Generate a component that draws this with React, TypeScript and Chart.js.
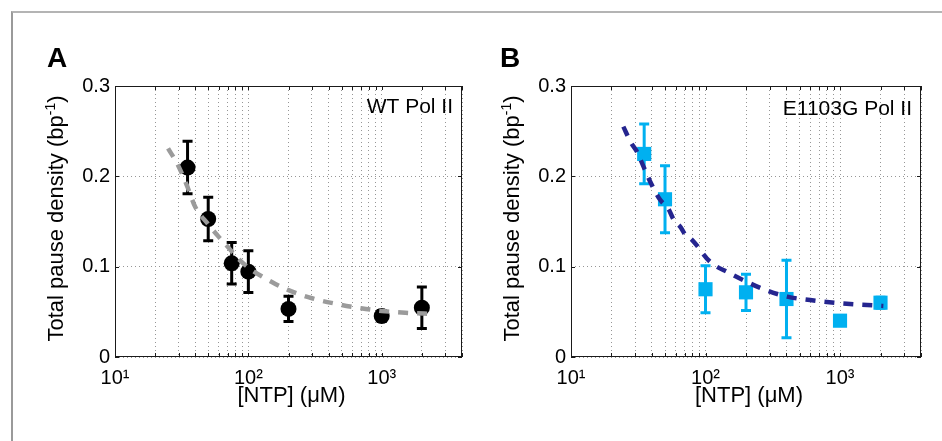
import React, { useEffect, useRef } from 'react';
import { Chart, registerables } from 'chart.js';
Chart.register(...registerables);

const FONT = "'Liberation Sans', Arial, Helvetica, sans-serif";

// Axis ticks / grid
const xGridValues = [10, 20, 30, 40, 50, 60, 70, 80, 90, 100, 200, 300, 400, 500, 600, 700, 800, 900, 1000, 2000, 3000, 4000];
const xMajorValues = [10, 100, 1000];
const xMajorLabels = ['10¹', '10²', '10³'];
const yTickValues = [0, 0.1, 0.2, 0.3];
const yTickLabels = ['0', '0.1', '0.2', '0.3'];
const xTitle = '[NTP] (μM)';
const yTitleMain = 'Total pause density (bp';
const yTitleSup = '-1';
const yTitleEnd = ')';

// Panel A — WT Pol II
const wtNtp = [35, 50, 75, 100, 200, 1000, 2000];
const wtDensity = [0.2097, 0.1528, 0.1037, 0.0945, 0.0532, 0.0454, 0.0546];
const wtError = [0.029, 0.024, 0.023, 0.023, 0.014, 0.006, 0.023];
const wtFitNtp = [25, 30, 35, 40, 50, 60, 70, 85, 100, 150, 200, 300, 450, 700, 1000, 1500, 2450];
const wtFitDensity = [0.231, 0.211, 0.188, 0.166, 0.147, 0.133, 0.122, 0.108, 0.099, 0.083, 0.074, 0.065, 0.059, 0.054, 0.051, 0.049, 0.0476];

// Panel B — E1103G Pol II
const mutNtp = [35, 50, 100, 200, 400, 1000, 2000];
const mutDensity = [0.2248, 0.1746, 0.075, 0.0716, 0.0642, 0.0402, 0.0601];
const mutError = [0.033, 0.037, 0.026, 0.02, 0.043, 0, 0.006];
const mutFitNtp = [24.5, 28, 31, 35, 40, 46, 53, 58, 65, 71, 79, 108, 150, 190, 270, 405, 600, 908, 1400, 2100];
const mutFitDensity = [0.255, 0.237, 0.227, 0.209, 0.19, 0.174, 0.164, 0.152, 0.144, 0.135, 0.13, 0.1055, 0.093, 0.0853, 0.075, 0.0668, 0.063, 0.0601, 0.058, 0.0565];

type PanelProps = {
  left: number;
  letter: string;
  letterX: number;
  annotation: string;
  annotationRight: number;
  annotationBaseline: number;
  ntp: number[];
  density: number[];
  error: number[];
  fitNtp: number[];
  fitDensity: number[];
  markerColor: string;
  markerStyle: string;
  markerRadius: number;
  fitColor: string;
  fitWidth: number;
  yAxisWidth: number;
  rightPad: number;
};

const W = 471;
const H = 441;

function Panel(p: PanelProps) {
  const ref = useRef<HTMLCanvasElement | null>(null);
  useEffect(() => {
    if (!ref.current) return;
    const deco = {
      id: 'deco',
      beforeDatasetsDraw(chart: any) {
        const { ctx } = chart;
        const x = chart.scales.x;
        const y = chart.scales.y;
        ctx.save();
        ctx.strokeStyle = p.markerColor;
        ctx.lineWidth = 3;
        ctx.lineCap = 'butt';
        p.ntp.forEach((v, i) => {
          const e = p.error[i];
          if (!e) return;
          const px = x.getPixelForValue(v);
          const y1 = y.getPixelForValue(p.density[i] + e);
          const y2 = y.getPixelForValue(p.density[i] - e);
          ctx.beginPath();
          ctx.moveTo(px, y1);
          ctx.lineTo(px, y2);
          ctx.moveTo(px - 5, y1);
          ctx.lineTo(px + 5, y1);
          ctx.moveTo(px - 5, y2);
          ctx.lineTo(px + 5, y2);
          ctx.stroke();
        });
        ctx.restore();
      },
      afterDatasetsDraw(chart: any) {
        const { ctx, chartArea: a } = chart;
        const x = chart.scales.x;
        const y = chart.scales.y;
        ctx.save();
        ctx.strokeStyle = '#1a1a1a';
        ctx.lineWidth = 1;
        ctx.strokeRect(Math.round(a.left) + 0.5, Math.round(a.top) + 0.5, Math.round(a.right - a.left) - 1, Math.round(a.bottom - a.top) - 1);
        ctx.beginPath();
        xGridValues.forEach((v) => {
          const px = Math.round(x.getPixelForValue(v)) + 0.5;
          ctx.moveTo(px, a.bottom);
          ctx.lineTo(px, a.bottom - 4);
          ctx.moveTo(px, a.top);
          ctx.lineTo(px, a.top + 4);
        });
        yTickValues.forEach((v) => {
          const py = Math.round(y.getPixelForValue(v)) + 0.5;
          ctx.moveTo(a.left, py);
          ctx.lineTo(a.left + 4, py);
          ctx.moveTo(a.right, py);
          ctx.lineTo(a.right - 4, py);
        });
        ctx.stroke();
        ctx.restore();
      },
      afterDraw(chart: any) {
        const { ctx, chartArea: a } = chart;
        ctx.save();
        ctx.fillStyle = '#000';
        // panel letter
        ctx.font = `bold 28px ${FONT}`;
        ctx.textAlign = 'left';
        ctx.textBaseline = 'alphabetic';
        ctx.fillText(p.letter, p.letterX, 67);
        // annotation
        ctx.font = `21px ${FONT}`;
        ctx.textAlign = 'right';
        ctx.fillText(p.annotation, p.annotationRight, p.annotationBaseline);
        // x title
        ctx.font = `22px ${FONT}`;
        ctx.textAlign = 'center';
        ctx.textBaseline = 'middle';
        ctx.fillText(xTitle, (a.left + a.right) / 2 + 3, 396);
        // y title (rotated, with superscript)
        ctx.textAlign = 'left';
        ctx.textBaseline = 'alphabetic';
        const big = `22px ${FONT}`;
        const small = `14px ${FONT}`;
        ctx.font = big;
        const w1 = ctx.measureText(yTitleMain).width;
        const w3 = ctx.measureText(yTitleEnd).width;
        ctx.font = small;
        const w2 = ctx.measureText(yTitleSup).width;
        const total = w1 + w2 + w3;
        const cx = a.left - 59;
        const cy = (a.top + a.bottom) / 2 - 3;
        ctx.translate(cx + 7, cy);
        ctx.rotate(-Math.PI / 2);
        let sx = -total / 2;
        ctx.font = big;
        ctx.fillText(yTitleMain, sx, 0);
        sx += w1;
        ctx.font = small;
        ctx.fillText(yTitleSup, sx, -8);
        sx += w2;
        ctx.font = big;
        ctx.fillText(yTitleEnd, sx, 0);
        ctx.restore();
      },
    };

    const chart = new Chart(ref.current, {
      type: 'scatter',
      data: {
        datasets: [
          {
            type: 'line',
            data: p.fitNtp.map((v, i) => ({ x: v, y: p.fitDensity[i] })),
            borderColor: p.fitColor,
            borderWidth: p.fitWidth,
            borderDash: [10, 9],
            borderCapStyle: 'butt',
            pointRadius: 0,
            fill: false,
            cubicInterpolationMode: 'monotone',
            order: 0,
          } as any,
          {
            type: 'scatter',
            data: p.ntp.map((v, i) => ({ x: v, y: p.density[i] })),
            pointStyle: p.markerStyle as any,
            pointRadius: p.markerRadius,
            backgroundColor: p.markerColor,
            borderColor: p.markerColor,
            borderWidth: 0,
            order: 1,
          },
        ],
      },
      options: {
        responsive: false,
        animation: false,
        devicePixelRatio: 1,
        events: [],
        layout: { padding: { left: 0, top: 86, right: p.rightPad, bottom: 0 } },
        plugins: { legend: { display: false }, tooltip: { enabled: false } },
        scales: {
          x: {
            type: 'logarithmic',
            min: 10,
            max: 4000,
            afterBuildTicks: (s: any) => {
              s.ticks = xGridValues.map((v) => ({ value: v }));
            },
            afterFit: (s: any) => {
              s.height = H - 357;
            },
            ticks: {
              autoSkip: false,
              maxRotation: 0,
              minRotation: 0,
              padding: 9,
              color: '#000',
              font: { family: FONT, size: 20 },
              callback: (v: any) => {
                const k = xMajorValues.indexOf(Number(v));
                return k >= 0 ? xMajorLabels[k] : '';
              },
            },
            grid: { color: '#969696', lineWidth: 1, drawTicks: false },
            border: { display: false, dash: [1, 3] },
          },
          y: {
            min: 0,
            max: 0.3,
            afterBuildTicks: (s: any) => {
              s.ticks = yTickValues.map((v) => ({ value: v }));
            },
            afterFit: (s: any) => {
              s.width = p.yAxisWidth;
            },
            ticks: {
              padding: 5,
              color: '#000',
              font: { family: FONT, size: 20 },
              callback: (_v: any, i: number) => yTickLabels[i],
            },
            grid: { color: '#969696', lineWidth: 1, drawTicks: false },
            border: { display: false, dash: [1, 3] },
          },
        },
      } as any,
      plugins: [deco],
    });
    return () => chart.destroy();
  }, []);
  return (
    <canvas
      ref={ref}
      width={W}
      height={H}
      style={{ position: 'absolute', left: p.left, top: 0, width: W, height: H, display: 'block' }}
    />
  );
}

export default function App() {
  return (
    <div style={{ position: 'absolute', left: 0, top: 0, width: 942, height: 441, background: '#fff', overflow: 'hidden' }}>
      <div style={{ position: 'absolute', left: 11, top: 11, width: 960, height: 460, borderTop: '2px solid #b4b4b4', borderLeft: '2px solid #9a9a9a' }} />
      <Panel
        left={0}
        letter="A"
        letterX={47}
        annotation="WT Pol II"
        annotationRight={453}
        annotationBaseline={113}
        ntp={wtNtp}
        density={wtDensity}
        error={wtError}
        fitNtp={wtFitNtp}
        fitDensity={wtFitDensity}
        markerColor="#000000"
        markerStyle="circle"
        markerRadius={8}
        fitColor="#9b9b9b"
        fitWidth={4.5}
        yAxisWidth={115}
        rightPad={5}
      />
      <Panel
        left={471}
        letter="B"
        letterX={29}
        annotation="E1103G Pol II"
        annotationRight={441}
        annotationBaseline={115}
        ntp={mutNtp}
        density={mutDensity}
        error={mutError}
        fitNtp={mutFitNtp}
        fitDensity={mutFitDensity}
        markerColor="#00b0f0"
        markerStyle="rect"
        markerRadius={10}
        fitColor="#25258f"
        fitWidth={4.5}
        yAxisWidth={100}
        rightPad={21}
      />
    </div>
  );
}
